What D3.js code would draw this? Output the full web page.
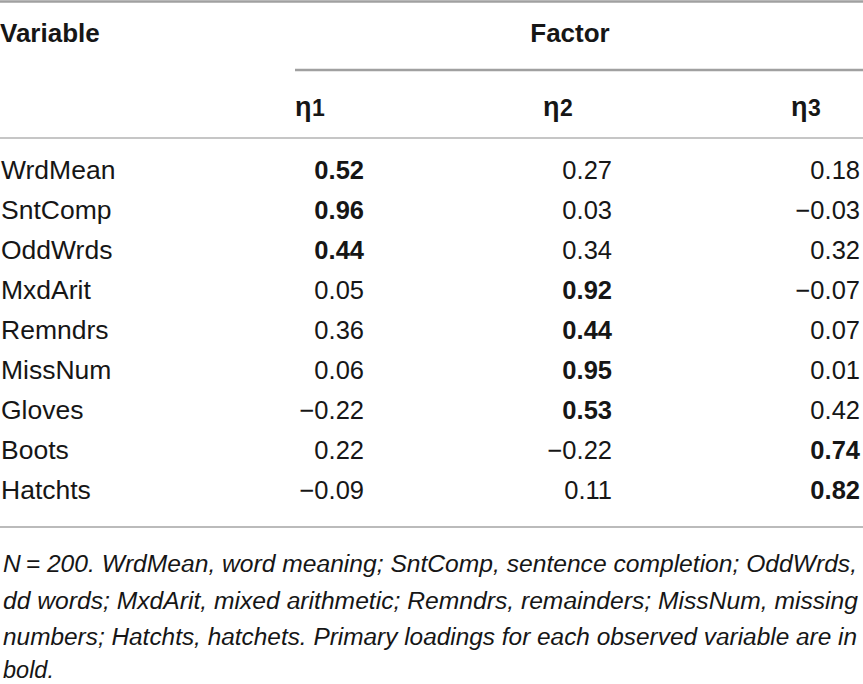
<!DOCTYPE html>
<html>
<head>
<meta charset="utf-8">
<script src="https://cdn.jsdelivr.net/npm/d3@7/dist/d3.min.js"></script>
<style>
  html, body { margin: 0; padding: 0; background: #fff; }
  svg { display: block; }
</style>
</head>
<body>
<svg id="chart" width="863" height="684"></svg>
<script>
// ---- data ----
const variables = ["WrdMean", "SntComp", "OddWrds", "MxdArit", "Remndrs", "MissNum", "Gloves", "Boots", "Hatchts"];
const factors = ["1", "2", "3"];
const eta1 = [0.52, 0.96, 0.44, 0.05, 0.36, 0.06, -0.22, 0.22, -0.09];
const eta2 = [0.27, 0.03, 0.34, 0.92, 0.44, 0.95, 0.53, -0.22, 0.11];
const eta3 = [0.18, -0.03, 0.32, -0.07, 0.07, 0.01, 0.42, 0.74, 0.82];
const primary = [0, 0, 0, 1, 1, 1, 1, 2, 2];
const headerVariable = "Variable";
const headerFactor = "Factor";
const footnote = [
  "N\u2009= 200. WrdMean, word meaning; SntComp, sentence completion; OddWrds,",
  "dd words; MxdArit, mixed arithmetic; Remndrs, remainders; MissNum, missing",
  "numbers; Hatchts, hatchets. Primary loadings for each observed variable are in",
  "bold."
];

// ---- layout ----
const W = 863, H = 684;
const svg = d3.select("#chart");
const bodyFont = "'Liberation Sans', Arial, Helvetica, sans-serif";
const ink = "#161616";

const series = [eta1, eta2, eta3];
const rows = variables.map((v, i) => ({ name: v, vals: series.map(s => s[i]), p: primary[i] }));

const y = d3.scalePoint().domain(variables).range([179, 499]);
const xRight = d3.scalePoint().domain(factors).range([364, 860]);
const colWidth = 69;

const fmt = v => (v < 0 ? "\u2212" : "") + d3.format(".2f")(Math.abs(v));

// rules
const rules = [
  { x1: 0, x2: W, y: 1.5, w: 2.4, c: "#a0a0a0" },
  { x1: 295, x2: W, y: 70, w: 2.4, c: "#a0a0a0" },
  { x1: 0, x2: W, y: 138, w: 1.7, c: "#b3b3b3" },
  { x1: 0, x2: W, y: 527, w: 1.7, c: "#a5a5a5" }
];
svg.selectAll("line.rule").data(rules).join("line")
  .attr("class", "rule")
  .attr("x1", d => d.x1).attr("x2", d => d.x2)
  .attr("y1", d => d.y).attr("y2", d => d.y)
  .attr("stroke", d => d.c).attr("stroke-width", d => d.w);

// headers
svg.append("text").text(headerVariable)
  .attr("x", 0).attr("y", 42)
  .attr("font-family", bodyFont).attr("font-weight", "bold").attr("font-size", 26)
  .attr("fill", ink);
svg.append("text").text(headerFactor)
  .attr("x", 570).attr("y", 42).attr("text-anchor", "middle")
  .attr("font-family", bodyFont).attr("font-weight", "bold").attr("font-size", 26)
  .attr("fill", ink);

const eta = svg.selectAll("text.eta").data(factors).join("text")
  .attr("class", "eta")
  .attr("x", d => xRight(d) - colWidth)
  .attr("y", 116)
  .attr("font-family", bodyFont).attr("font-weight", "bold")
  .attr("fill", ink);
eta.append("tspan").text("\u03B7").attr("font-size", 27);
eta.append("tspan").text(d => d).attr("font-size", 23).attr("dx", 0.5);

// row labels
svg.selectAll("text.var").data(rows).join("text")
  .attr("class", "var")
  .attr("x", 1).attr("y", d => y(d.name))
  .attr("font-family", bodyFont).attr("font-size", 26.5)
  .attr("fill", ink)
  .text(d => d.name);

// values
const cells = rows.flatMap(r => r.vals.map((v, j) => ({ row: r.name, f: factors[j], v, bold: r.p === j })));
svg.selectAll("text.val").data(cells).join("text")
  .attr("class", "val")
  .attr("x", d => xRight(d.f)).attr("y", d => y(d.row))
  .attr("text-anchor", "end")
  .attr("font-family", bodyFont).attr("font-size", 25.5)
  .attr("font-weight", d => d.bold ? "bold" : "normal")
  .attr("fill", ink)
  .text(d => fmt(d.v));

// footnote
const fnBase = [571.5, 608.5, 645, 678];
const fnLen = [854, 855, 854, null];
svg.selectAll("text.fn").data(footnote).join("text")
  .attr("class", "fn")
  .attr("x", 3).attr("y", (d, i) => fnBase[i])
  .attr("font-family", "'Liberation Sans Narrow', 'Liberation Sans', Arial, sans-serif")
  .attr("font-style", "italic").attr("font-size", 23.5)
  .attr("fill", ink)
  .each(function (d, i) {
    if (fnLen[i]) d3.select(this).attr("textLength", fnLen[i]).attr("lengthAdjust", "spacingAndGlyphs");
  })
  .text(d => d);
</script>
</body>
</html>
